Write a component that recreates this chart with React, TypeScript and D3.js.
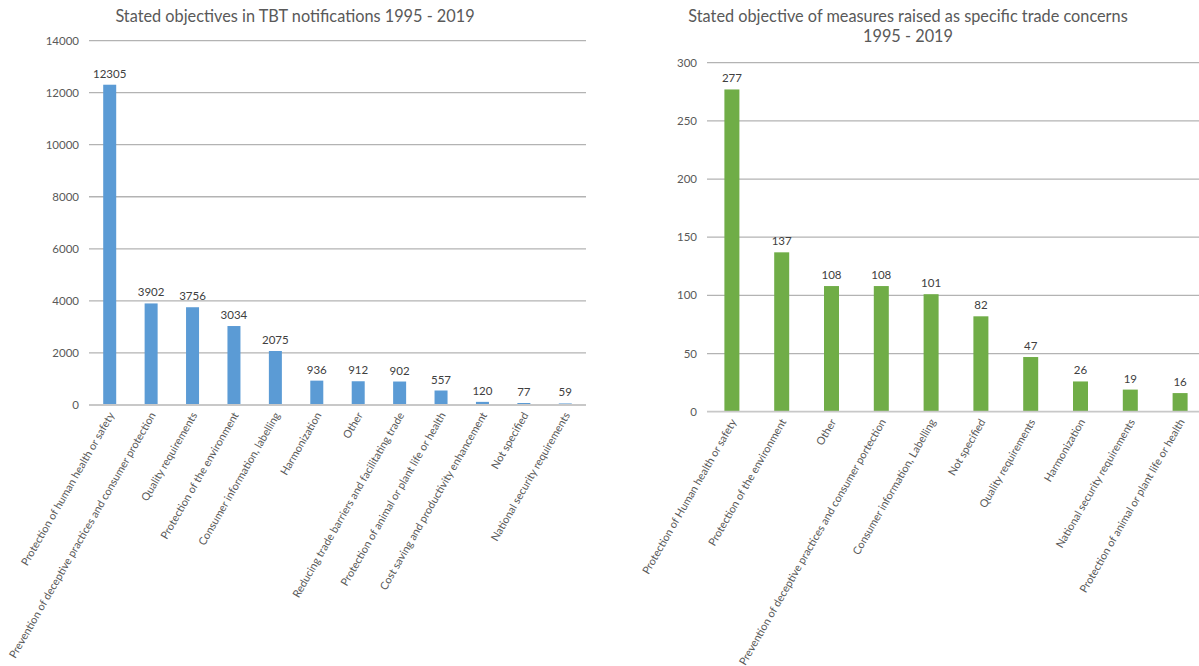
import React from "react";
import * as d3 from "d3";

const leftTitle = "Stated objectives in TBT notifications 1995 - 2019";
const leftCategories = [
  "Protection of human health or safety",
  "Prevention of deceptive practices and consumer protection",
  "Quality requirements",
  "Protection of the environment",
  "Consumer information, labelling",
  "Harmonization",
  "Other",
  "Reducing trade barriers and facilitating trade",
  "Protection of animal or plant life or health",
  "Cost saving and productivity enhancement",
  "Not specified",
  "National security requirements",
];
const leftValues = [12305, 3902, 3756, 3034, 2075, 936, 912, 902, 557, 120, 77, 59];
const leftTicks = [0, 2000, 4000, 6000, 8000, 10000, 12000, 14000];

const rightTitle = ["Stated objective of measures raised as specific trade concerns", "1995 - 2019"];
const rightCategories = [
  "Protection of Human health or safety",
  "Protection of the environment",
  "Other",
  "Prevention of deceptive practices and consumer portection",
  "Consumer information, Labelling",
  "Not specified",
  "Quality requirements",
  "Harmonization",
  "National security requirements",
  "Protection of animal or plant life or health",
];
const rightValues = [277, 137, 108, 108, 101, 82, 47, 26, 19, 16];
const rightTicks = [0, 50, 100, 150, 200, 250, 300];

const FONT = "Lato, 'Liberation Sans', Arial, sans-serif";
const TEXT = "#595959";

type PanelProps = {
  title: string[];
  titleX: number;
  titleY: number;
  categories: string[];
  values: number[];
  ticks: number[];
  x0: number;
  x1: number;
  yTop: number;
  yBottom: number;
  color: string;
  barWidth: number;
};

function Panel(p: PanelProps) {
  const max = p.ticks[p.ticks.length - 1];
  const y = d3.scaleLinear().domain([0, max]).range([p.yBottom, p.yTop]);
  const x = d3.scaleBand<string>().domain(p.categories).range([p.x0, p.x1]).paddingInner(0).paddingOuter(0);
  const bw = x.bandwidth();
  return (
    <g fontFamily={FONT}>
      {p.title.map((t, i) => (
        <text key={i} x={p.titleX} y={p.titleY + i * 20} textAnchor="middle" fontSize={16.3} fill={TEXT}>
          {t}
        </text>
      ))}
      {p.ticks.map((t) => (
        <g key={t}>
          {t !== 0 && (
            <line x1={p.x0} x2={p.x1} y1={y(t)} y2={y(t)} stroke="#b3b3b3" strokeWidth={1.3} />
          )}
          <text x={p.x0 - 10} y={y(t)} dy="0.35em" textAnchor="end" fontSize={11.5} fill={TEXT}>
            {t}
          </text>
        </g>
      ))}
      {p.categories.map((c, i) => {
        const cx = (x(c) as number) + bw / 2;
        const v = p.values[i];
        return (
          <g key={c}>
            <rect
              x={cx - p.barWidth / 2}
              y={y(v)}
              width={p.barWidth}
              height={p.yBottom - y(v)}
              fill={p.color}
            />
            <text x={cx} y={y(v) - 7} textAnchor="middle" fontSize={11.5} fill="#404040">
              {v}
            </text>
            <text
              transform={`translate(${cx + 5},${p.yBottom + 10}) rotate(-60)`}
              textAnchor="end"
              fontSize={10.9}
              fill={TEXT}
            >
              {c}
            </text>
          </g>
        );
      })}
      <line x1={p.x0} x2={p.x1} y1={p.yBottom} y2={p.yBottom} stroke="#c8c8c8" strokeWidth={1.8} />
    </g>
  );
}

export default function App() {
  return (
    <svg
      width={1199}
      height={666}
      style={{ position: "absolute", left: 0, top: 0, background: "#fff" }}
    >
      <Panel
        title={[leftTitle]}
        titleX={295}
        titleY={22}
        categories={leftCategories}
        values={leftValues}
        ticks={leftTicks}
        x0={89}
        x1={586}
        yTop={40.6}
        yBottom={405}
        color="#5B9BD5"
        barWidth={13}
      />
      <Panel
        title={rightTitle}
        titleX={908}
        titleY={22}
        categories={rightCategories}
        values={rightValues}
        ticks={rightTicks}
        x0={707}
        x1={1205}
        yTop={62.7}
        yBottom={411.7}
        color="#70AD47"
        barWidth={15}
      />
    </svg>
  );
}
